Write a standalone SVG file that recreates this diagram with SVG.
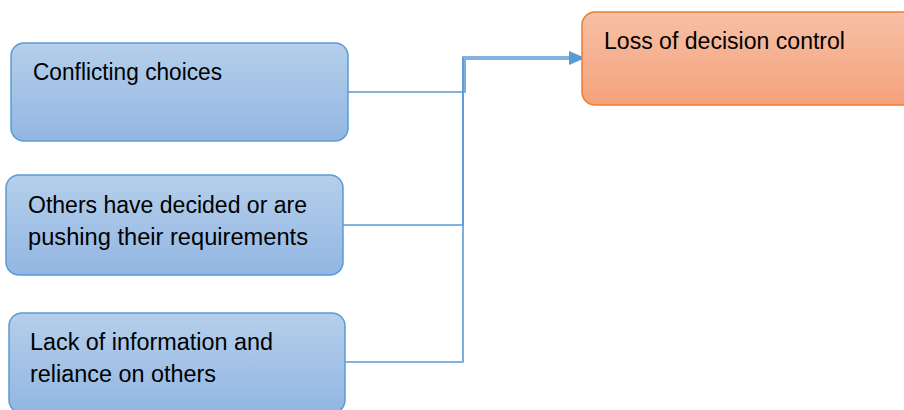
<svg xmlns="http://www.w3.org/2000/svg" width="904" height="410" viewBox="0 0 904 410">
<defs>
<linearGradient id="gb" x1="0" y1="0" x2="0" y2="1"><stop offset="0" stop-color="#b5cfeb"/><stop offset="1" stop-color="#92b6e2"/></linearGradient>
<linearGradient id="go" x1="0" y1="0" x2="0" y2="1"><stop offset="0" stop-color="#f7c0a6"/><stop offset="1" stop-color="#f4a27b"/></linearGradient>
<marker id="ah" markerWidth="14" markerHeight="14" refX="13" refY="7" orient="auto" markerUnits="userSpaceOnUse"><path d="M0,1 L14,7 L0,13 z" fill="#5b9bd5"/></marker>
</defs>
<style>
.b{fill:url(#gb);stroke:#5b9bd5;stroke-width:1.5}
.o{fill:url(#go);stroke:#ed7d31;stroke-width:1.5}
.t{font-family:"Liberation Sans",Arial,sans-serif;font-size:23px;fill:#000}
.c{fill:none;stroke:#5b9bd5;stroke-width:1.6}
</style>
<g id="connectors">
<path class="c" d="M348 92 H465 V59 H582" marker-end="url(#ah)"/>
<path class="c" d="M343 225 H463 V57 H582" marker-end="url(#ah)"/>
<path class="c" d="M344 362 H463 V58"/>
</g>
<g id="n1"><rect class="b" x="11" y="43" width="337" height="98" rx="13"/><text class="t" x="33" y="80" textLength="189" lengthAdjust="spacingAndGlyphs">Conflicting choices</text></g>
<g id="n2"><rect class="b" x="6" y="175" width="337" height="100" rx="13"/><text class="t" x="28" y="213" textLength="279" lengthAdjust="spacingAndGlyphs">Others have decided or are</text><text class="t" x="28" y="245" textLength="280" lengthAdjust="spacingAndGlyphs">pushing their requirements</text></g>
<g id="n3"><rect class="b" x="9" y="313" width="336" height="100" rx="13"/><text class="t" x="30" y="350" textLength="243" lengthAdjust="spacingAndGlyphs">Lack of information and</text><text class="t" x="30" y="382" textLength="186" lengthAdjust="spacingAndGlyphs">reliance on others</text></g>
<g id="n4"><rect class="o" x="582" y="12" width="340" height="93" rx="13"/><text class="t" x="604" y="49" textLength="241" lengthAdjust="spacingAndGlyphs">Loss of decision control</text></g>
</svg>
